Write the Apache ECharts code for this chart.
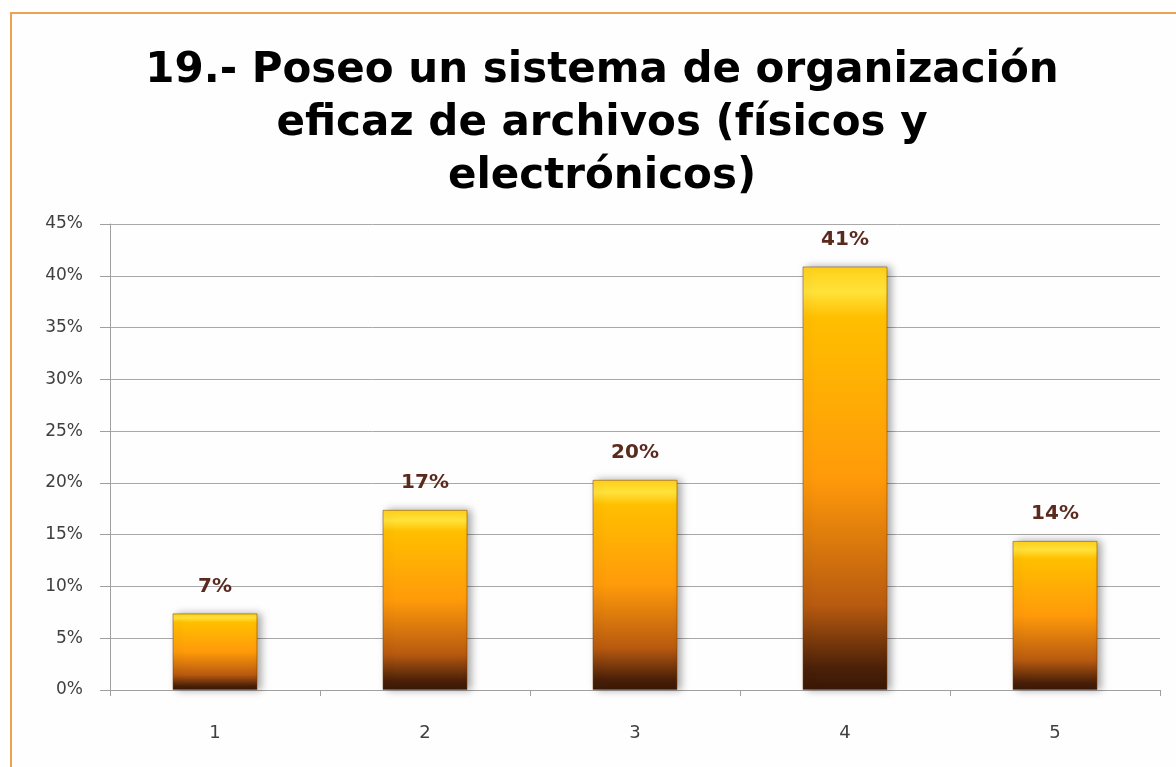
<!DOCTYPE html>
<html>
<head>
<meta charset="utf-8">
<script src="https://cdn.jsdelivr.net/npm/echarts@6/dist/echarts.min.js"></script>
<style>
html,body{margin:0;padding:0;background:#fff;}
#frame{position:absolute;left:10px;top:12px;width:1180px;height:770px;border-left:2px solid #f0a050;border-top:2px solid #f0a050;background:#fefefe;}
#chart{position:absolute;left:0;top:0;width:1176px;height:767px;}
</style>
</head>
<body>
<div id="frame"></div>
<div id="chart"></div>
<script>
const titleText = "19.- Poseo un sistema de organización\neficaz de archivos (físicos y\nelectrónicos)";
const categories = ["1", "2", "3", "4", "5"];
const values = [7.4, 17.4, 20.3, 40.9, 14.4];
const labelsText = ["7%", "17%", "20%", "41%", "14%"];
const yMin = 0, yMax = 45, yStep = 5;

const chart = echarts.init(document.getElementById('chart'), null, {renderer: 'canvas'});
chart.setOption({
  backgroundColor: 'transparent',
  animation: false,
  title: {
    text: titleText,
    left: 597, top: 40, textAlign: 'center',
    textStyle: {fontFamily: 'DejaVu Sans', fontWeight: 'bold', fontSize: 42, lineHeight: 53, color: '#000'}
  },
  grid: {left: 110, right: 16, top: 224, bottom: 77},
  xAxis: {
    type: 'category', data: categories,
    axisLine: {lineStyle: {color: '#a0a0a0', width: 1}},
    axisTick: {show: true, length: 6, lineStyle: {color: '#a0a0a0'}},
    axisLabel: {margin: 34, color: '#404040', fontSize: 18, fontFamily: 'DejaVu Sans'}
  },
  yAxis: {
    type: 'value', min: yMin, max: yMax, interval: yStep,
    axisLine: {show: true, lineStyle: {color: '#a0a0a0', width: 1}},
    axisTick: {show: true, length: 10, lineStyle: {color: '#a0a0a0'}},
    splitLine: {lineStyle: {color: '#a8a8a8', width: 1}},
    axisLabel: {margin: 27, color: '#404040', fontSize: 17, fontFamily: 'DejaVu Sans', formatter: v => v + '%'}
  },
  series: [{
    type: 'bar',
    data: values,
    barWidth: 85,
    itemStyle: {
      color: {type: 'linear', x: 0, y: 0, x2: 0, y2: 1, colorStops: [
        {offset: 0, color: '#ffd21a'},
        {offset: 0.06, color: '#ffe23a'},
        {offset: 0.12, color: '#ffbf00'},
        {offset: 0.5, color: '#ff9a0a'},
        {offset: 0.8, color: '#b85a10'},
        {offset: 0.95, color: '#4a2008'},
        {offset: 1, color: '#3a1805'}
      ]},
      borderColor: 'rgba(120,60,0,0.5)',
      borderWidth: 1,
      shadowColor: 'rgba(0,0,0,0.35)',
      shadowBlur: 8,
      shadowOffsetX: 4,
      shadowOffsetY: 0
    },
    label: {
      show: true, position: 'top', distance: 17,
      formatter: p => labelsText[p.dataIndex],
      color: '#5a2a1e', fontWeight: 'bold', fontSize: 20, fontFamily: 'DejaVu Sans'
    }
  }]
});
</script>
</body>
</html>
